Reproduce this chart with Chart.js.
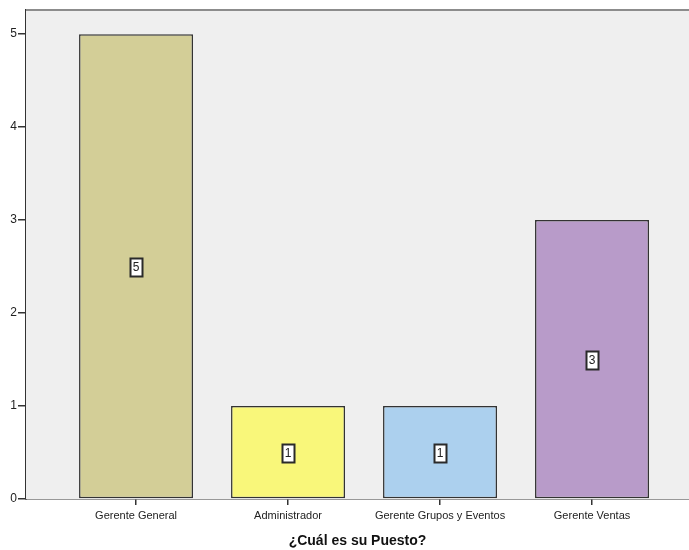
<!DOCTYPE html>
<html>
<head>
<meta charset="utf-8">
<script src="https://cdn.jsdelivr.net/npm/chart.js@4"></script>
<style>
  html, body { margin: 0; padding: 0; background: #ffffff; }
  #wrap { width: 689px; height: 550px; }
</style>
</head>
<body>
<div id="wrap"><canvas id="puesto"></canvas></div>
<script>
// frequencies per job position
const puestos = ['Gerente General', 'Administrador', 'Gerente Grupos y Eventos', 'Gerente Ventas'];
const recuento = [5, 1, 1, 3];
const colores = ['#d3ce97', '#f9f77a', '#acd0ee', '#b89bc9'];
const yTicks = [0, 1, 2, 3, 4, 5];
const xTitulo = '¿Cuál es su Puesto?';

const FONT = '"Liberation Sans", Arial, sans-serif';

// grey plot panel with darker frame line on top
const panel = {
    id: 'panel',
    beforeDatasetsDraw(chart) {
        const a = chart.chartArea, ctx = chart.ctx;
        ctx.save();
        ctx.fillStyle = '#efefef';
        ctx.fillRect(a.left, a.top, a.right - a.left, a.bottom - a.top);
        ctx.fillStyle = '#8c8c8c';
        ctx.fillRect(a.left, a.top - 1, a.right - a.left, 2);
        ctx.restore();
    }
};

// boxed count label in the middle of every bar
const etiquetas = {
    id: 'etiquetas',
    afterDatasetsDraw(chart) {
        const ctx = chart.ctx, y = chart.scales.y;
        const meta = chart.getDatasetMeta(0);
        ctx.save();
        ctx.font = '12px ' + FONT;
        ctx.textAlign = 'center';
        ctx.textBaseline = 'middle';
        meta.data.forEach((bar, i) => {
            const v = recuento[i];
            const cy = y.getPixelForValue(v / 2);
            const w = 12, h = 18;
            const x0 = Math.round(bar.x - w / 2) + 0.5, y0 = Math.round(cy - h / 2) + 0.5;
            ctx.fillStyle = '#ffffff';
            ctx.fillRect(x0, y0, w, h);
            ctx.strokeStyle = '#2a2a2a';
            ctx.lineWidth = 2;
            ctx.strokeRect(x0, y0, w, h);
            ctx.fillStyle = '#222222';
            ctx.fillText(String(v), bar.x, cy + 1);
        });
        ctx.restore();
    }
};

new Chart(document.getElementById('puesto'), {
    type: 'bar',
    data: {
        datasets: [{
            data: recuento.map((v, i) => ({ x: i, y: v })),
            backgroundColor: colores,
            borderColor: '#333333',
            borderWidth: 1.5,
            borderSkipped: false,
            barPercentage: 0.75,
            categoryPercentage: 1.0
        }]
    },
    options: {
        responsive: true,
        maintainAspectRatio: false,
        animation: false,
        layout: { padding: { top: 10, right: 0, left: 0, bottom: 0 } },
        plugins: { legend: { display: false }, tooltip: { enabled: false } },
        scales: {
            x: {
                type: 'linear',
                offset: false,
                min: -0.724,
                max: 3.638,
                afterBuildTicks: s => { s.ticks = puestos.map((_, i) => ({ value: i })); },
                afterFit: s => { s.height = 51; },
                ticks: {
                    callback: v => puestos[v],
                    color: '#222222',
                    font: { family: FONT, size: 11 },
                    padding: 4,
                    maxRotation: 0,
                    autoSkip: false
                },
                grid: { offset: false, drawOnChartArea: false, drawTicks: true, tickLength: 6, color: '#333333', lineWidth: 1.5 },
                border: { display: true, color: '#333333', width: 1.5 },
                title: {
                    display: true,
                    text: xTitulo,
                    color: '#111111',
                    font: { family: FONT, size: 14, weight: 'bold' },
                    padding: { top: 4, bottom: 0 }
                }
            },
            y: {
                min: 0,
                max: 5.26,
                afterBuildTicks: s => { s.ticks = yTicks.map(v => ({ value: v })); },
                afterFit: s => { s.width = 26; },
                ticks: {
                    color: '#222222',
                    font: { family: FONT, size: 12 },
                    padding: 1
                },
                grid: { drawOnChartArea: false, drawTicks: true, tickLength: 8, color: '#333333', lineWidth: 1.5 },
                border: { display: true, color: '#333333', width: 2 }
            }
        }
    },
    plugins: [panel, etiquetas]
});
</script>
</body>
</html>
